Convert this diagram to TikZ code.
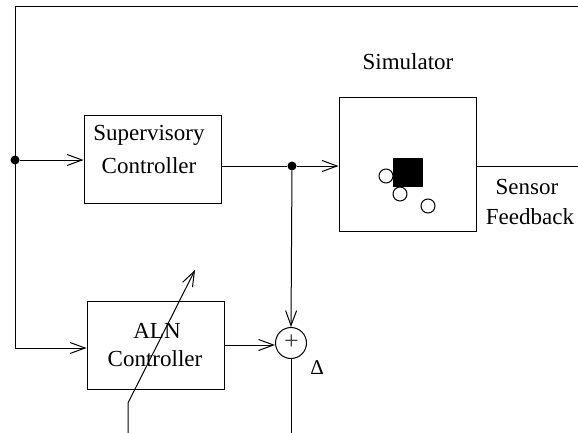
\documentclass[tikz,border=0pt]{standalone}
\usepackage{fontspec}
\setmainfont{Liberation Serif}
\usetikzlibrary{arrows.meta}
\begin{document}
\begin{tikzpicture}[x=1pt,y=-1pt,
  box/.style={draw, line width=1pt, inner sep=0pt},
  wire/.style={line width=1pt},
  arr/.style={wire, -{Straight Barb[length=15pt,width=11pt,line width=1pt]}},
  dot/.style={circle, fill, inner sep=0pt, minimum size=9pt},
  lbl/.style={inner sep=0pt, font=\fontsize{23}{28}\selectfont},
  obj/.style={circle, draw, line width=1pt, inner sep=0pt, minimum size=14pt, fill=white}]
\useasboundingbox (0,0) rectangle (578,433);
% boxes
\node[box, minimum width=137pt, minimum height=88pt] (sup) at (152.5,159.5) {};
\node[lbl] (suptxt1) at (149,135) {Supervisory};
\node[lbl] (suptxt2) at (149,166) {Controller};
\node[box, minimum width=137pt, minimum height=88pt] (aln) at (155.5,345) {};
\node[lbl] (alntxt1) at (157,331) {ALN};
\node[lbl] (alntxt2) at (155,359) {Controller};
\node[box, minimum width=137pt, minimum height=133pt] (sim) at (407.5,164.5) {};
\node[lbl] (simtxt) at (408,62) {Simulator};
\node[lbl] (sens1) at (527,187) {Sensor};
\node[lbl] (sens2) at (530,217) {Feedback};
% simulator contents
\node[fill, minimum width=30pt, minimum height=29pt, inner sep=0pt] (blk) at (408,172.5) {};
\node[obj] (o1) at (386,176) {};
\node[obj] (o2) at (400,194) {};
\node[obj] (o3) at (428,206) {};
% sum
\node[circle, draw, line width=1pt, minimum size=31pt, inner sep=0pt] (sum) at (291,343) {};
\node[inner sep=0pt, font=\fontsize{26}{28}\selectfont, text=black!75] (plus) at (291.5,342) {+};
\node[inner sep=0pt, font=\fontsize{21}{24}\selectfont] (delta) at (317,368) {Δ};
% junctions
\node[dot] (d1) at (15,160) {};
\node[dot] (d2) at (292,166) {};
\coordinate (tl) at (15,7);
\coordinate (tr) at (578,7);
\coordinate (bl) at (15,348);
\coordinate (outr) at (578,166);
\coordinate (sumbot) at (291,433);
\coordinate (adj0) at (128,433);
\coordinate (adj1) at (128,403);
\coordinate (adj2) at (195,270);
% wires
\draw[wire] (tr) -- (tl) -- (bl);
\draw[arr] (bl) -- (aln.west |- bl);
\draw[arr] (d1) -- (sup.west |- d1);
\draw[wire] (sup.east |- d2) -- (d2);
\draw[arr] (d2) -- (sim.west |- d2);
\draw[wire] (sim.east |- outr) -- (outr);
\draw[arr] (d2) -- (sum.north);
\draw[arr] (aln.east) -- (sum.west |- aln.east);
\draw[wire] (sum.south) -- (sumbot);
\draw[arr] (adj0) -- (adj1) -- (adj2);
\end{tikzpicture}
\end{document}
